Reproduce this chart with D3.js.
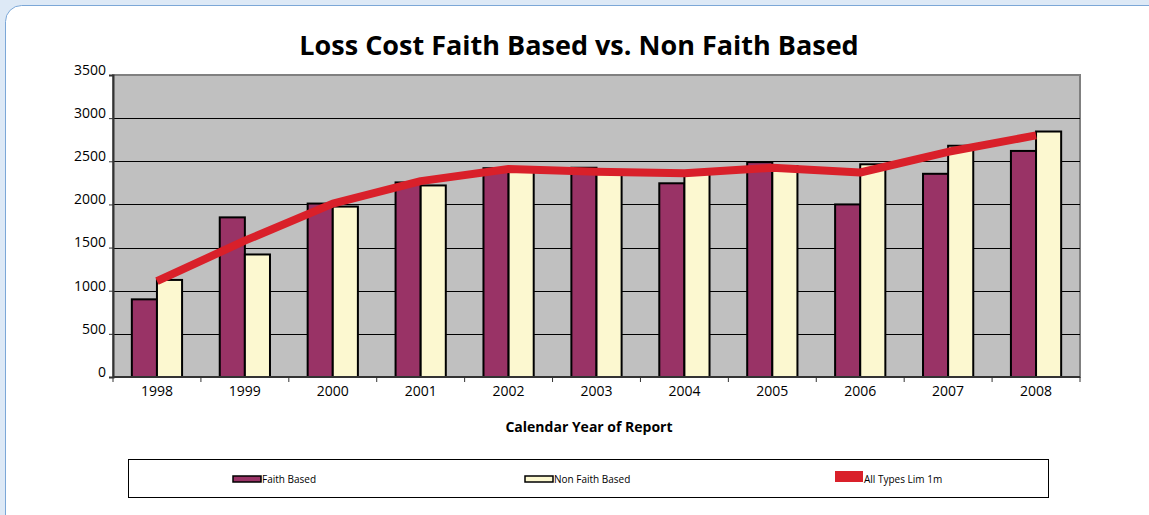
<!DOCTYPE html>
<html>
<head>
<meta charset="utf-8">
<script src="https://cdn.jsdelivr.net/npm/d3@7"></script>
<style>
  html, body { margin: 0; padding: 0; background: #dde9f6; }
  #chart { width: 1149px; height: 515px; }
  text { font-family: "Open Sans", "Noto Sans", sans-serif; }
</style>
</head>
<body>
<div id="chart"></div>
<script>
const years = ['1998', '1999', '2000', '2001', '2002', '2003', '2004', '2005', '2006', '2007', '2008'];
const faithBased = [900, 1850, 2010, 2255, 2420, 2425, 2245, 2490, 2000, 2355, 2620];
const nonFaithBased = [1125, 1420, 1975, 2220, 2425, 2395, 2365, 2445, 2465, 2680, 2845];
const allTypes = [1110, 1580, 2010, 2270, 2410, 2380, 2360, 2425, 2370, 2610, 2800];
const yTicks = [0, 500, 1000, 1500, 2000, 2500, 3000, 3500];

const width = 1149, height = 515;
const plot = { left: 113, top: 75, right: 1080, bottom: 377 };

const svg = d3.select('#chart').append('svg')
  .attr('width', width)
  .attr('height', height);

// panel frame
svg.append('rect')
  .attr('x', 5.5).attr('y', 5.5)
  .attr('width', width + 20).attr('height', height + 20)
  .attr('rx', 16)
  .attr('fill', '#fff')
  .attr('stroke', '#7ba7d7')
  .attr('stroke-width', 1);

svg.append('text')
  .attr('x', 579).attr('y', 55)
  .attr('text-anchor', 'middle')
  .attr('font-size', '27px')
  .attr('font-weight', 'bold')
  .attr('fill', '#000')
  .text('Loss Cost Faith Based vs. Non Faith Based');

const x = d3.scaleBand()
  .domain(years)
  .range([plot.left, plot.right]);

const xInner = d3.scaleBand()
  .domain(['faith', 'non'])
  .range([0, x.bandwidth()])
  .paddingOuter(0.75);

const y = d3.scaleLinear()
  .domain([0, 3500])
  .range([plot.bottom, plot.top]);

// plot background
svg.append('rect')
  .attr('x', plot.left).attr('y', plot.top)
  .attr('width', plot.right - plot.left)
  .attr('height', plot.bottom - plot.top)
  .attr('fill', '#c0c0c0')
  .attr('stroke', '#808080')
  .attr('stroke-width', 2);

// grid
svg.append('g')
  .selectAll('line')
  .data(yTicks.filter(d => d > 0 && d < 3500))
  .join('line')
  .attr('x1', plot.left).attr('x2', plot.right)
  .attr('y1', d => Math.round(y(d)) + 0.5).attr('y2', d => Math.round(y(d)) + 0.5)
  .attr('stroke', '#000')
  .attr('stroke-width', 1);

// bars
const groups = svg.append('g')
  .selectAll('g')
  .data(years.map((yr, i) => ({ yr, faith: faithBased[i], non: nonFaithBased[i] })))
  .join('g')
  .attr('transform', d => `translate(${x(d.yr)},0)`);

groups.append('rect')
  .attr('x', xInner('faith'))
  .attr('y', d => y(d.faith))
  .attr('width', xInner.bandwidth())
  .attr('height', d => plot.bottom - y(d.faith))
  .attr('fill', '#993366')
  .attr('stroke', '#000')
  .attr('stroke-width', 2);

groups.append('rect')
  .attr('x', xInner('non'))
  .attr('y', d => y(d.non))
  .attr('width', xInner.bandwidth())
  .attr('height', d => plot.bottom - y(d.non))
  .attr('fill', '#fcf8d0')
  .attr('stroke', '#000')
  .attr('stroke-width', 2);

// line
const line = d3.line()
  .x((d, i) => x(years[i]) + x.bandwidth() / 2)
  .y(d => y(d));

svg.append('path')
  .datum(allTypes)
  .attr('fill', 'none')
  .attr('stroke', '#d9202a')
  .attr('stroke-width', 8)
  .attr('stroke-linejoin', 'round')
  .attr('d', line);

// axes
const yAxis = svg.append('g')
  .attr('transform', `translate(${plot.left},0)`)
  .call(d3.axisLeft(y).tickValues(yTicks).tickFormat(d3.format('d')).tickSize(4).tickPadding(3));
yAxis.select('.domain').attr('stroke', '#333').attr('stroke-width', 2);
yAxis.selectAll('.tick line').attr('stroke', '#333');
yAxis.selectAll('.tick text')
  .attr('font-size', '14px')
  .attr('dy', '-0.05em')
  .attr('fill', '#000');

const xAxis = svg.append('g')
  .attr('transform', `translate(0,${plot.bottom})`);
xAxis.append('line')
  .attr('x1', plot.left).attr('x2', plot.right)
  .attr('stroke', '#333').attr('stroke-width', 2);
xAxis.selectAll('.sep')
  .data(years.concat(['end']))
  .join('line')
  .attr('class', 'sep')
  .attr('x1', (d, i) => i < years.length ? x(d) : plot.right)
  .attr('x2', (d, i) => i < years.length ? x(d) : plot.right)
  .attr('y1', 0).attr('y2', 5)
  .attr('stroke', '#333');
xAxis.selectAll('text')
  .data(years)
  .join('text')
  .attr('x', d => x(d) + x.bandwidth() / 2)
  .attr('y', 19)
  .attr('text-anchor', 'middle')
  .attr('font-size', '14px')
  .attr('fill', '#000')
  .text(d => d);

svg.append('text')
  .attr('x', 589).attr('y', 432)
  .attr('text-anchor', 'middle')
  .attr('font-size', '14px')
  .attr('font-weight', 'bold')
  .attr('fill', '#000')
  .text('Calendar Year of Report');

// legend
svg.append('rect')
  .attr('x', 128.5).attr('y', 459.5)
  .attr('width', 920).attr('height', 38)
  .attr('fill', '#fff')
  .attr('stroke', '#000')
  .attr('stroke-width', 1);

const legendItems = [
  { label: 'Faith Based', x: 233, type: 'bar', fill: '#993366' },
  { label: 'Non Faith Based', x: 525, type: 'bar', fill: '#fcf8d0' },
  { label: 'All Types Lim 1m', x: 835, type: 'line', fill: '#d9202a' }
];

const leg = svg.append('g').selectAll('g')
  .data(legendItems)
  .join('g')
  .attr('transform', d => `translate(${d.x},0)`);

leg.append('rect')
  .attr('x', 0)
  .attr('y', d => d.type === 'bar' ? 476 : 471)
  .attr('width', 28)
  .attr('height', d => d.type === 'bar' ? 6 : 11)
  .attr('fill', d => d.fill)
  .attr('stroke', d => d.type === 'bar' ? '#000' : 'none')
  .attr('stroke-width', 1.5);

leg.append('text')
  .attr('x', 29)
  .attr('y', 483)
  .attr('font-size', '10px')
  .attr('fill', '#000')
  .text(d => d.label);
</script>
</body>
</html>
